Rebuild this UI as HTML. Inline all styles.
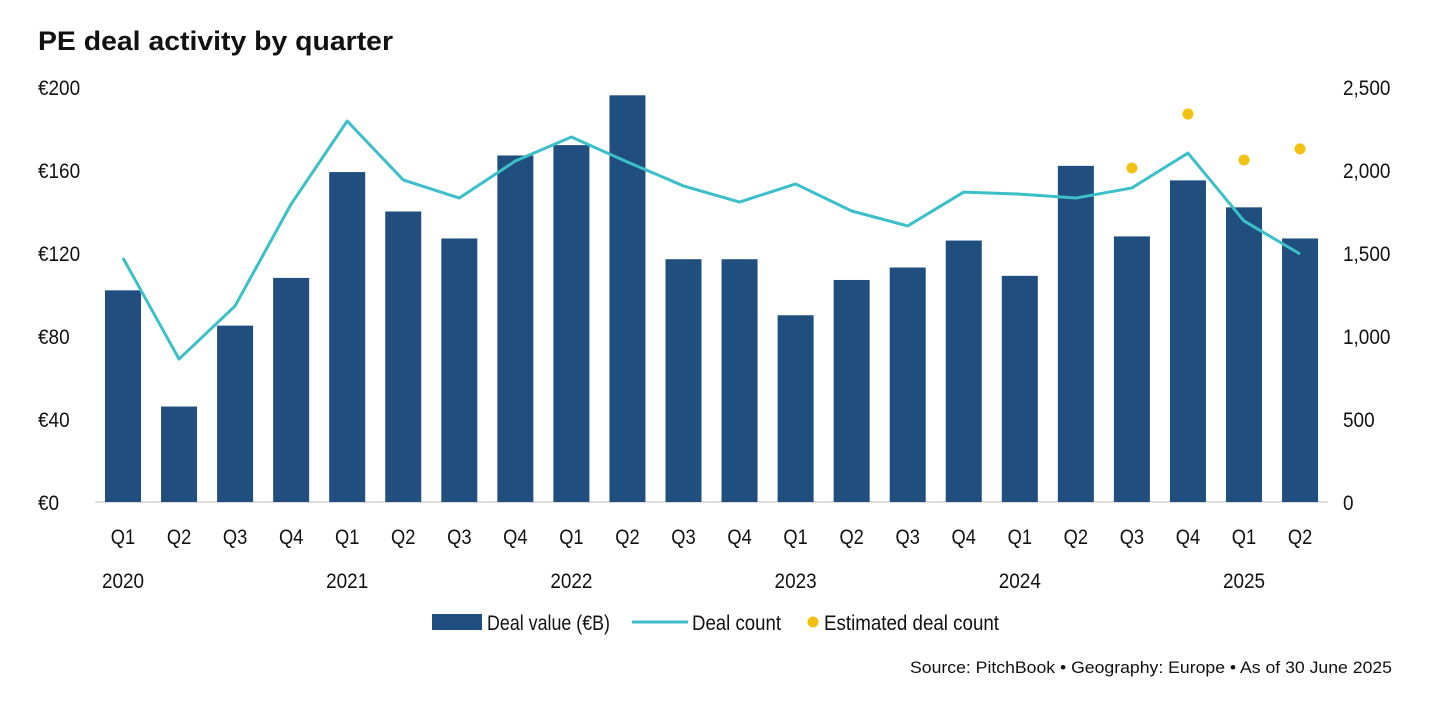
<!DOCTYPE html>
<html><head><meta charset="utf-8"><style>
body{margin:0;background:#fff;width:1456px;height:706px;overflow:hidden}
svg text{font-family:"Liberation Sans",sans-serif;fill:#111}
</style></head><body>
<svg width="1456" height="706">
<text x="38" y="50" textLength="355" lengthAdjust="spacingAndGlyphs" style="font-weight:bold;font-size:27px">PE deal activity by quarter</text>
<g id="axes"></g><g id="bars"></g><g id="line"></g><g id="dots"></g>
<g>
<rect x="432" y="614" width="50" height="16" fill="#1f4e7f"/>
<text x="487" y="630" font-size="21" textLength="123" lengthAdjust="spacingAndGlyphs">Deal value (€B)</text>
<line x1="632" y1="622" x2="688" y2="622" stroke="#3bbfc9" stroke-width="3"/>
<text x="692" y="630" font-size="21" textLength="89" lengthAdjust="spacingAndGlyphs">Deal count</text>
<circle cx="813" cy="622" r="5.5" fill="#f2c10f"/>
<text x="824" y="630" font-size="21" textLength="175" lengthAdjust="spacingAndGlyphs">Estimated deal count</text>
</g>
<text x="1392" y="673" text-anchor="end" font-size="17" textLength="482" lengthAdjust="spacingAndGlyphs">Source: PitchBook  •  Geography: Europe  •  As of 30 June 2025</text>
</svg>
<script>
const quarters=["Q1","Q2","Q3","Q4","Q1","Q2","Q3","Q4","Q1","Q2","Q3","Q4","Q1","Q2","Q3","Q4","Q1","Q2","Q3","Q4","Q1","Q2"];
const years=[["2020",0],["2021",4],["2022",8],["2023",12],["2024",16],["2025",20]];
const dealValue=[102,46,85,108,159,140,127,167,172,196,117,117,90,107,113,126,109,162,128,155,142,127];
const dealCount=[1470,861,1181,1795,2295,1940,1831,2054,2199,2048,1904,1807,1916,1753,1663,1867,1855,1831,1892,2102,1693,1494];
const estIdx=[18,19,20,21];
const estCount=[2012,2337,2060,2127];
const leftTicks=[0,40,80,120,160,200];
const leftLabels=["€0","€40","€80","€120","€160","€200"];
const rightTicks=[0,500,1000,1500,2000,2500];
const rightLabels=["0","500","1,000","1,500","2,000","2,500"];
const NS="http://www.w3.org/2000/svg";
const y0=502,yTop=87;
const yL=v=>y0-(v/200)*(y0-yTop);
const yR=v=>y0-(v/2500)*(y0-yTop);
const xC=i=>123+i*56.05;
function mk(t,a,p){const e=document.createElementNS(NS,t);for(const k in a)e.setAttribute(k,a[k]);document.getElementById(p).appendChild(e);return e;}
function sq(t,w){const n=t.getComputedTextLength();if(n>0)t.setAttribute("textLength",(n*w).toFixed(1));t.setAttribute("lengthAdjust","spacingAndGlyphs");}
leftTicks.forEach((v,i)=>{const t=mk("text",{x:38,y:yL(v)+8,"font-size":21.5},"axes");t.textContent=leftLabels[i];sq(t,0.88);

});
rightTicks.forEach((v,i)=>{const t=mk("text",{x:1343,y:yR(v)+8,"font-size":21.5},"axes");t.textContent=rightLabels[i];sq(t,0.88);

});
quarters.forEach((q,i)=>{const t=mk("text",{x:xC(i),y:544,"font-size":21.5,"text-anchor":"middle"},"axes");t.textContent=q;sq(t,0.85);

});
years.forEach(([y,i])=>{const t=mk("text",{x:xC(i),y:588,"font-size":21.5,"text-anchor":"middle"},"axes");t.textContent=y;sq(t,0.88);

});
dealValue.forEach((v,i)=>{const r=mk("rect",{x:xC(i)-18,y:yL(v),width:36,height:y0-yL(v),fill:"#1f4e7f"},"bars");

});
const base=mk("line",{x1:95,x2:1328,y1:y0,y2:y0,stroke:"#bbb","stroke-width":1},"axes");


const pl=mk("polyline",{points:dealCount.map((v,i)=>xC(i)+","+yR(v)).join(" "),fill:"none",stroke:"#3bbfc9","stroke-width":3,"stroke-linejoin":"round"},"line");


estCount.forEach((v,k)=>{const c=mk("circle",{cx:xC(estIdx[k]),cy:yR(v),r:5.5,fill:"#f2c10f"},"dots");

});
</script>
</body></html>
